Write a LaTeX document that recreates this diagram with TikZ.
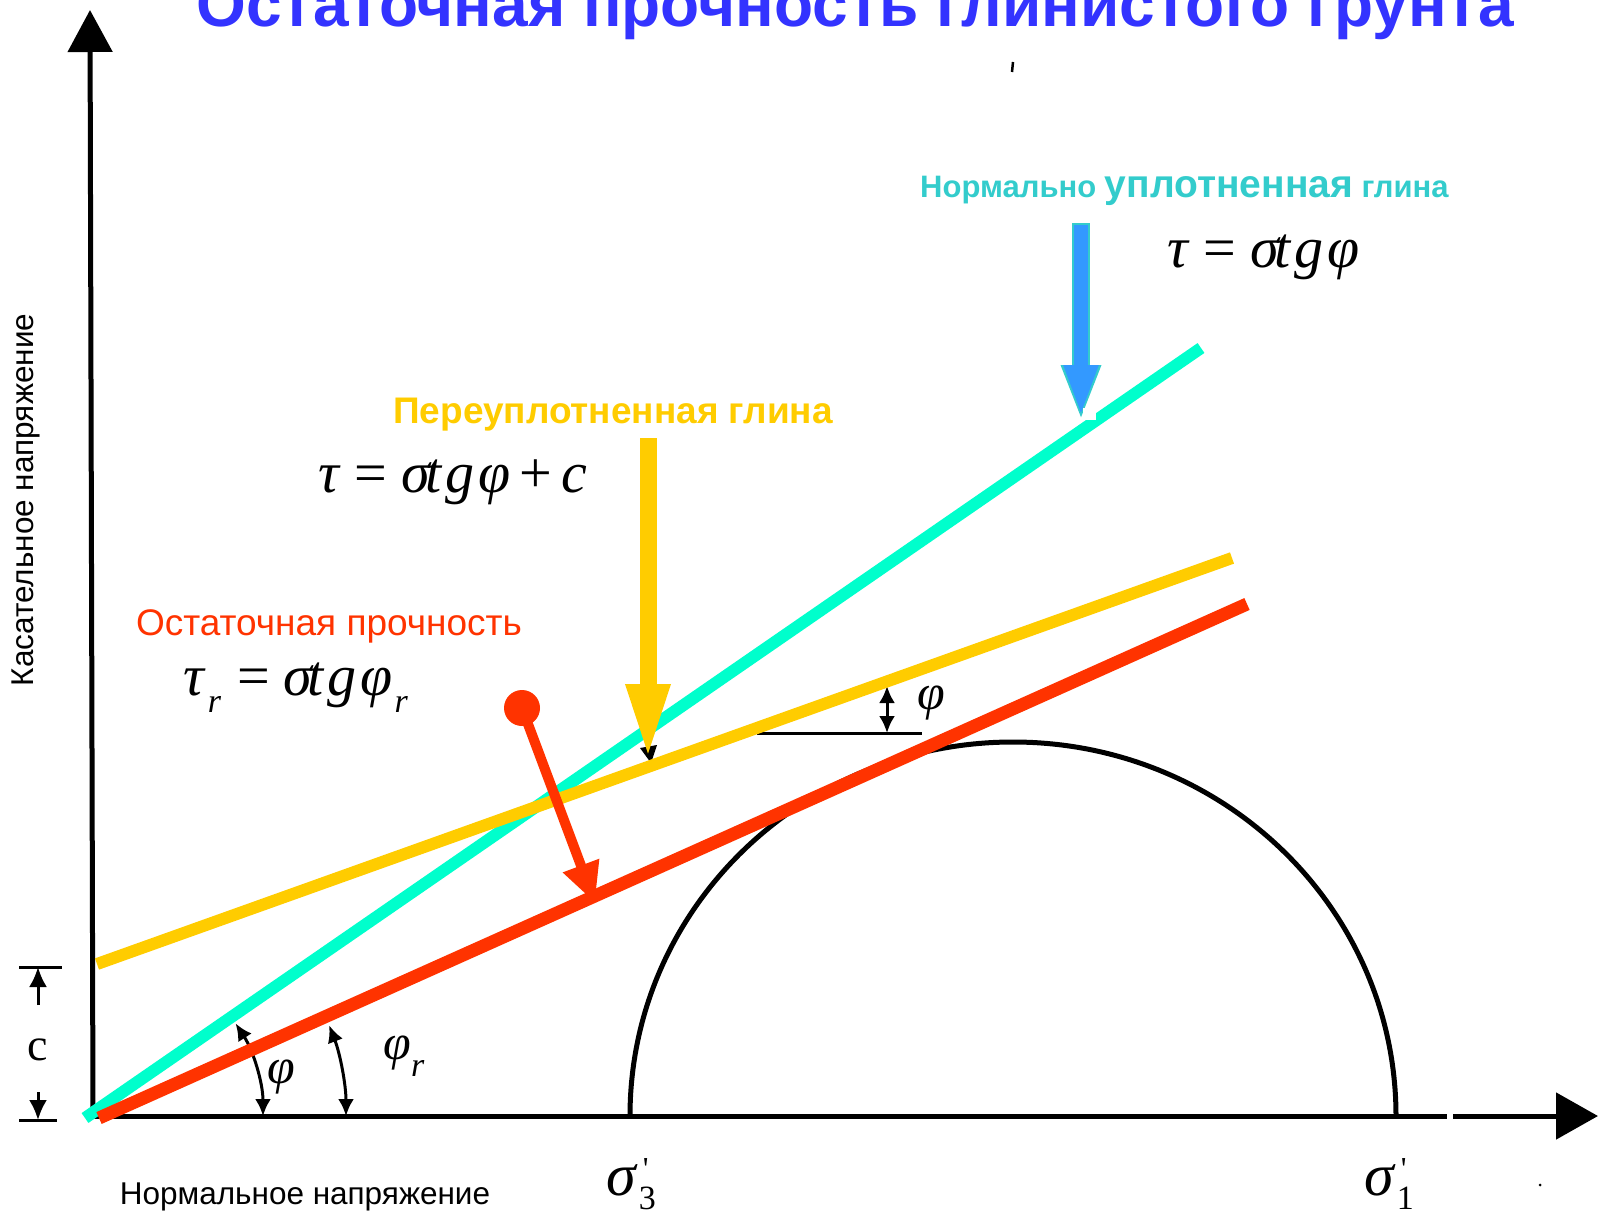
\documentclass[tikz,border=0pt]{standalone}
\usepackage{fontspec}
\setmainfont{Liberation Serif}
\newfontfamily\arial{Liberation Sans}
\usetikzlibrary{arrows.meta}

\definecolor{titleblue}{RGB}{51,51,255}
\definecolor{nccyan}{RGB}{0,255,204}
\definecolor{nctext}{RGB}{51,204,204}
\definecolor{ocyellow}{RGB}{255,204,0}
\definecolor{resred}{RGB}{255,51,0}
\definecolor{arrowblue}{RGB}{51,153,255}

\newcommand{\fsz}[1]{\fontsize{#1}{#1}\selectfont}
\newcommand{\lowr}[1]{\raisebox{-17pt}{\fsz{34}#1}}
\newcommand{\stg}{σ\kern-5pt t\kern4pt g\kern4pt}
\newcommand{\sigprime}[1]{σ\hspace{3pt}\rlap{\hspace{4pt}\raisebox{16pt}{\upshape\fsz{32}\textquotesingle}}\raisebox{-14pt}{\upshape\fsz{34}#1}}

\begin{document}
\begin{tikzpicture}[x=1pt, y=-1pt,
		axis/.style={line width=5pt},
		envelope/.style={line width=12pt},
		dimline/.style={line width=3pt, {Latex[length=17pt,width=16pt]}-{Latex[length=17pt,width=16pt]}},
		txt/.style={font=\arial, inner sep=0pt},
		formula/.style={inner sep=0pt, anchor=base west, font=\itshape\fsz{58}},
		sym/.style={inner sep=0pt, font=\itshape\fsz{50}}
		]
		
		\useasboundingbox (0,0) rectangle (1605,1218);
		\clip (0,0) rectangle (1605,1218);
		
		% =========================
		% Axes
		% =========================
		\coordinate (O) at (93,1116);
		\coordinate (ytop) at (90,10);
		\coordinate (gapL) at (1447,1116);
		\coordinate (gapR) at (1453,1116);
		\coordinate (xend) at (1598,1116);
		\draw[axis] (93,1118) -- (ytop) [-{Triangle[length=42pt,width=44pt]}];
		\draw[axis, -{Triangle[length=42pt,width=46pt]}] (O) -- (gapL) (gapR) -- (xend);
		
		% Mohr circle
		\coordinate (s3) at (630,1116);
		\coordinate (s1) at (1396,1116);
		\draw[axis] (s3) arc[start angle=180, end angle=360, x radius=383, y radius=374];
		
		% =========================
		% c dimension
		% =========================
		\coordinate (ctop) at (38,967);
		\coordinate (cbot) at (38,1120);
		\draw[line width=3pt] (19,967) -- (62,967) (19,1120) -- (57,1120);
		\draw[line width=3pt, -{Latex[length=20pt,width=18pt]}] (38,1005) -- (ctop);
		\draw[line width=3pt, -{Latex[length=20pt,width=18pt]}] (38,1092) -- (cbot);
		\node[inner sep=0pt, font=\fsz{46}] (clab) at (38,1050) {c};
		
		% angle marks
		\draw[dimline] (O) ++(170,0) arc[start angle=0, end angle=-33, radius=170];
		\draw[dimline] (O) ++(253,0) arc[start angle=0, end angle=-21, radius=253];
		\coordinate (hL) at (757,733);
		\coordinate (hR) at (922,733);
		\draw[line width=3pt] (hL) -- (hR);
		\draw[dimline] (887,733) -- (887,686);
		\node[sym] (phiA) at (281,1077) {φ};
		\node[sym] (phiR) at (404,1056) {φ\lowr{r}};
		\node[sym] (phiB) at (931,703) {φ};
		
		% stray marks of the scan
		\draw[line width=2.5pt] (1013,62) -- (1012,72);
		\fill (1540,1185) circle (1.5);
		\fill (640,748) -- (657,745) -- (651,763) -- cycle;
		
		% =========================
		% Envelopes
		% =========================
		\coordinate (ncA) at (85,1118);
		\coordinate (ncB) at (1201,348);
		\coordinate (ocA) at (97,964);
		\coordinate (ocB) at (1232,558);
		\coordinate (resA) at (99,1118);
		\coordinate (resB) at (1247,604);
		\draw[envelope, nccyan] (ncA) -- (ncB);
		\draw[envelope, ocyellow] (ocA) -- (ocB);
		\draw[envelope, resred, line width=13pt] (resA) -- (resB);
		
		% =========================
		% Pointer arrows
		% =========================
		\draw[line width=17pt, ocyellow, -{Triangle[length=76pt,width=40pt]}] (648,438) -- (648,760);
		\draw[line width=18pt, nctext, -{Triangle[length=56pt,width=36pt]}] (1081,223) -- (1081,421);
		\draw[line width=14pt, arrowblue, -{Triangle[length=52pt,width=31pt]}] (1081,225) -- (1081,417);
		\fill[white] (1083,408) rectangle (1096,420);
		\fill[resred] (522,708) circle (18);
		\draw[line width=10pt, resred, -{Triangle[length=40pt,width=36pt]}] (522,708) -- (595,903);
		
		% =========================
		% Texts
		% =========================
		\node[txt, anchor=base, text=titleblue, font=\arial\bfseries\fsz{64}] (title) at (855,26) {Остаточная прочность глинистого грунта};
		\node[txt, rotate=90, font=\arial\fsz{31.5}] (ylab) at (26,500) {Касательное напряжение};
		\node[txt, anchor=base, font=\arial\fsz{31.5}] (xlab) at (305,1204) {Нормальное напряжение};
		\node[txt, anchor=base, text=ocyellow, font=\arial\bfseries\fsz{37}] (oclab) at (613,423) {Переуплотненная глина};
		\node[txt, anchor=base, text=resred, font=\arial\fsz{37}] (reslab) at (329,635) {Остаточная прочность};
		\node[txt, anchor=base west, text=nctext, font=\arial\bfseries\fsz{31}] (nclab) at (920,197) {Нормально {\fsz{39}уплотненная} глина};
		
		\node[formula] (eqnc) at (1167,267) {τ\hspace{16pt}{\upshape =}\hspace{14pt}\stg φ};
		\node[formula] (eqoc) at (318,492) {τ\hspace{16pt}{\upshape =}\hspace{14pt}\stg φ\hspace{9pt}{\upshape +}\hspace{9pt}c};
		\node[formula] (eqres) at (183,695) {τ\hspace{4pt}\lowr{r}\hspace{16pt}{\upshape =}\hspace{14pt}\stg φ\hspace{2pt}\lowr{r}};
		
		\node[inner sep=0pt, anchor=base west, font=\itshape\fsz{60}] (s3lab) at (606,1195) {\sigprime{3}};
		\node[inner sep=0pt, anchor=base west, font=\itshape\fsz{60}] (s1lab) at (1364,1195) {\sigprime{1}};
		
	\end{tikzpicture}
\end{document}
